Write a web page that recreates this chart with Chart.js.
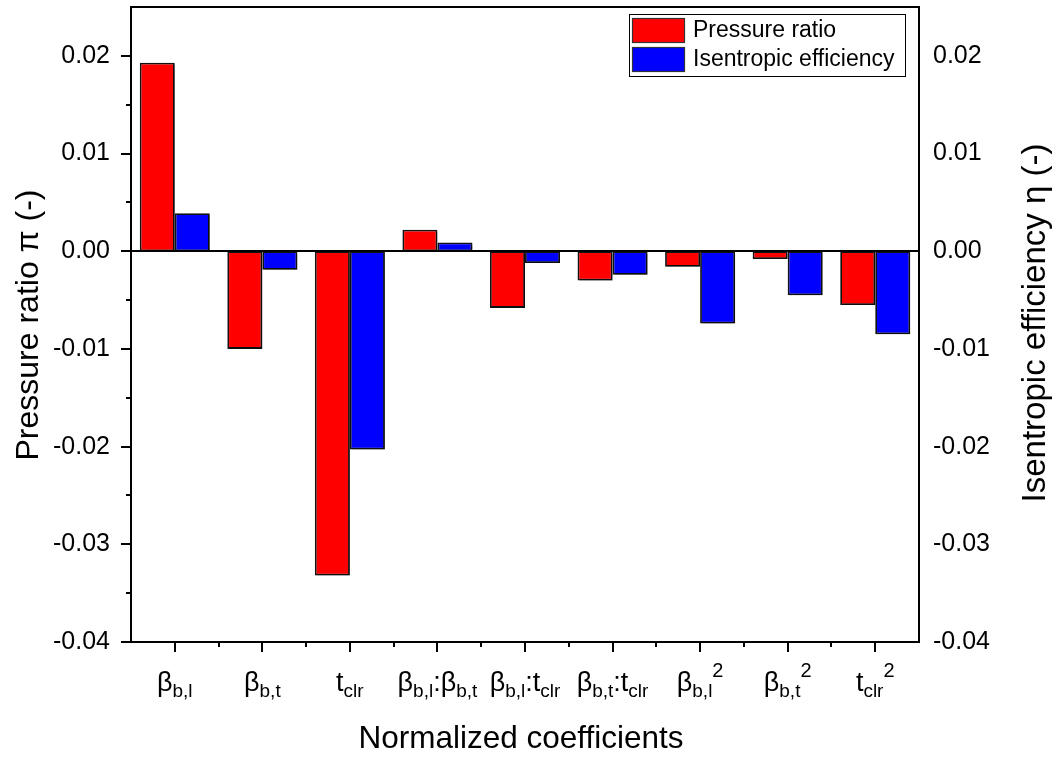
<!DOCTYPE html>
<html>
<head>
<meta charset="utf-8">
<style>
  html, body { margin: 0; padding: 0; background: #fff; }
  #wrap { width: 1053px; height: 757px; }
</style>
<script src="https://cdn.jsdelivr.net/npm/chart.js@4/dist/chart.umd.min.js"></script>
</head>
<body>
<div id="wrap"><canvas id="c" width="1053" height="757"></canvas></div>
<script>
// Regression coefficients (normalized) for each model term.
// Labels use _{..} for subscripts and ^{..} for superscripts.
const categories = [
  'β_{b,l}', 'β_{b,t}', 't_{clr}',
  'β_{b,l}:β_{b,t}', 'β_{b,l}:t_{clr}', 'β_{b,t}:t_{clr}',
  'β_{b,l}^{2}', 'β_{b,t}^{2}', 't_{clr}^{2}'
];
const pressureRatio = [0.0193, -0.0100, -0.0332, 0.0022, -0.0058, -0.0030, -0.0016, -0.0008, -0.0055];
const isentropicEff = [0.0039, -0.0019, -0.0203, 0.0009, -0.0012, -0.0024, -0.0074, -0.0045, -0.0085];
const seriesNames = ['Pressure ratio', 'Isentropic efficiency'];
const yTickValues = [-0.04, -0.03, -0.02, -0.01, 0.00, 0.01, 0.02];
const xTitle = 'Normalized coefficients';
const yTitleLeft = 'Pressure ratio π (-)';
const yTitleRight = 'Isentropic efficiency η (-)';

const FONT = '"Liberation Sans", Arial, sans-serif';
const AREA = { left: 131, top: 7, right: 919, bottom: 642 };
const W = 1053, H = 757;

// Split a label such as "β_{b,l}^{2}" into text runs with a vertical role.
function parseLabel(s) {
  const parts = [];
  let i = 0, buf = '';
  while (i < s.length) {
    const ch = s[i];
    if ((ch === '_' || ch === '^') && s[i + 1] === '{') {
      if (buf) { parts.push({ t: buf, k: 'n' }); buf = ''; }
      const end = s.indexOf('}', i + 2);
      parts.push({ t: s.slice(i + 2, end), k: ch === '_' ? 'sub' : 'sup' });
      i = end + 1;
    } else { buf += ch; i++; }
  }
  if (buf) parts.push({ t: buf, k: 'n' });
  return parts;
}

// Fix a scale's footprint so the plot area lands where intended.
function fixBox(s, size) {
  if (s.isHorizontal()) s.height = size; else s.width = size;
  s.paddingTop = 0; s.paddingBottom = 0; s.paddingLeft = 0; s.paddingRight = 0;
}

const decorations = {
  id: 'decorations',
  beforeDatasetsDraw(chart) {
    const ctx = chart.ctx;
    ctx.save();
    ctx.shadowColor = 'rgba(0,0,0,0.28)';
    ctx.shadowOffsetX = 2;
    ctx.shadowOffsetY = 2;
    ctx.shadowBlur = 1;
  },
  afterDatasetsDraw(chart) {
    chart.ctx.restore();
  },
  afterDraw(chart) {
    const ctx = chart.ctx;
    const { left, right, top, bottom } = chart.chartArea;
    const y = chart.scales.y, x = chart.scales.x;
    ctx.save();
    ctx.strokeStyle = '#000';
    ctx.lineWidth = 2;

    // zero line
    const y0 = Math.round(y.getPixelForValue(0));
    ctx.beginPath(); ctx.moveTo(left, y0); ctx.lineTo(right, y0); ctx.stroke();

    // frame
    ctx.strokeRect(left, top, right - left, bottom - top);

    // left axis ticks (major + minor, outward)
    ctx.beginPath();
    yTickValues.forEach((v, i) => {
      const p = Math.round(y.getPixelForValue(v));
      ctx.moveTo(left, p); ctx.lineTo(left - 10, p);
      if (i < yTickValues.length - 1) {
        const m = Math.round(y.getPixelForValue((v + yTickValues[i + 1]) / 2));
        ctx.moveTo(left, m); ctx.lineTo(left - 5, m);
      }
    });
    // bottom axis ticks
    categories.forEach((c, i) => {
      const p = Math.round(x.getPixelForValue(i));
      ctx.moveTo(p, bottom); ctx.lineTo(p, bottom + 10);
      if (i < categories.length - 1) {
        const m = Math.round((x.getPixelForValue(i) + x.getPixelForValue(i + 1)) / 2);
        ctx.moveTo(m, bottom); ctx.lineTo(m, bottom + 5);
      }
    });
    ctx.stroke();

    // category labels with sub/superscripts
    ctx.fillStyle = '#000';
    ctx.textBaseline = 'alphabetic';
    ctx.textAlign = 'left';
    const sizes = { n: 27, sub: 19, sup: 20 };
    const shift = { n: 0, sub: 6, sup: -14 };
    categories.forEach((c, i) => {
      const parts = parseLabel(c);
      let total = 0;
      parts.forEach(p => { ctx.font = sizes[p.k] + 'px ' + FONT; p.w = ctx.measureText(p.t).width; total += p.w; });
      let cx = x.getPixelForValue(i) - total / 2;
      const base = 691;
      parts.forEach(p => {
        ctx.font = sizes[p.k] + 'px ' + FONT;
        ctx.fillText(p.t, cx, base + shift[p.k]);
        cx += p.w;
      });
    });

    // axis titles
    ctx.font = '31.5px ' + FONT;
    ctx.textAlign = 'center';
    ctx.textBaseline = 'middle';
    ctx.fillText(xTitle, 521, 739);
    ctx.font = '32px ' + FONT;
    ctx.save();
    ctx.translate(29, 325); ctx.rotate(-Math.PI / 2);
    ctx.fillText(yTitleLeft, 0, 0);
    ctx.restore();
    ctx.font = '33px ' + FONT;
    ctx.save();
    ctx.translate(1036, 323); ctx.rotate(-Math.PI / 2);
    ctx.fillText(yTitleRight, 0, 0);
    ctx.restore();

    // legend box
    const lx = 629, ly = 14, lw = 276, lh = 62;
    ctx.fillStyle = '#fff';
    ctx.fillRect(lx, ly, lw, lh);
    ctx.lineWidth = 1;
    ctx.strokeStyle = '#000';
    ctx.strokeRect(lx + 0.5, ly + 0.5, lw, lh);
    ctx.font = '23px ' + FONT;
    ctx.textAlign = 'left';
    ctx.textBaseline = 'middle';
    chart.data.datasets.forEach((ds, i) => {
      const sy = 18 + i * 29;
      ctx.fillStyle = ds.backgroundColor;
      ctx.fillRect(632, sy, 53, 25);
      ctx.strokeStyle = '#333';
      ctx.lineWidth = 1.2;
      ctx.strokeRect(632.5, sy + 0.5, 52, 24);
      ctx.fillStyle = '#000';
      ctx.fillText(ds.label, 693, sy + 13);
    });
    ctx.restore();
  }
};

const yRange = { min: -0.04, max: 0.025 };

new Chart(document.getElementById('c'), {
  type: 'bar',
  data: {
    labels: categories,
    datasets: [
      { label: seriesNames[0], data: pressureRatio, yAxisID: 'y',
        backgroundColor: '#ff0000', borderColor: '#111', borderWidth: 1.8,
        borderSkipped: false, categoryPercentage: 0.8, barPercentage: 1.0 },
      { label: seriesNames[1], data: isentropicEff, yAxisID: 'y2',
        backgroundColor: '#0000ff', borderColor: '#111', borderWidth: 1.8,
        borderSkipped: false, categoryPercentage: 0.8, barPercentage: 1.0 }
    ]
  },
  options: {
    responsive: false,
    animation: false,
    devicePixelRatio: 1,
    layout: { padding: { top: AREA.top, left: 0, right: 0, bottom: 0 } },
    plugins: { legend: { display: false }, tooltip: { enabled: false } },
    scales: {
      x: {
        type: 'category',
        offset: true,
        grid: { display: false, drawTicks: false },
        border: { display: false },
        ticks: { display: false },
        afterFit(s) { fixBox(s, H - AREA.bottom); }
      },
      y: {
        position: 'left',
        min: yRange.min, max: yRange.max,
        grid: { display: false, drawTicks: false },
        border: { display: false },
        ticks: {
          stepSize: 0.01, includeBounds: false, padding: 21,
          color: '#000', font: { family: FONT, size: 25 },
          callback: v => (Math.abs(v) < 1e-9 ? 0 : v).toFixed(2)
        },
        afterFit(s) { fixBox(s, AREA.left); }
      },
      y2: {
        position: 'right',
        min: yRange.min, max: yRange.max,
        grid: { display: false, drawTicks: false },
        border: { display: false },
        ticks: {
          stepSize: 0.01, includeBounds: false, padding: 14,
          color: '#000', font: { family: FONT, size: 25 },
          callback: v => (Math.abs(v) < 1e-9 ? 0 : v).toFixed(2)
        },
        afterFit(s) { fixBox(s, W - AREA.right); }
      }
    }
  },
  plugins: [decorations]
});
</script>
</body>
</html>
